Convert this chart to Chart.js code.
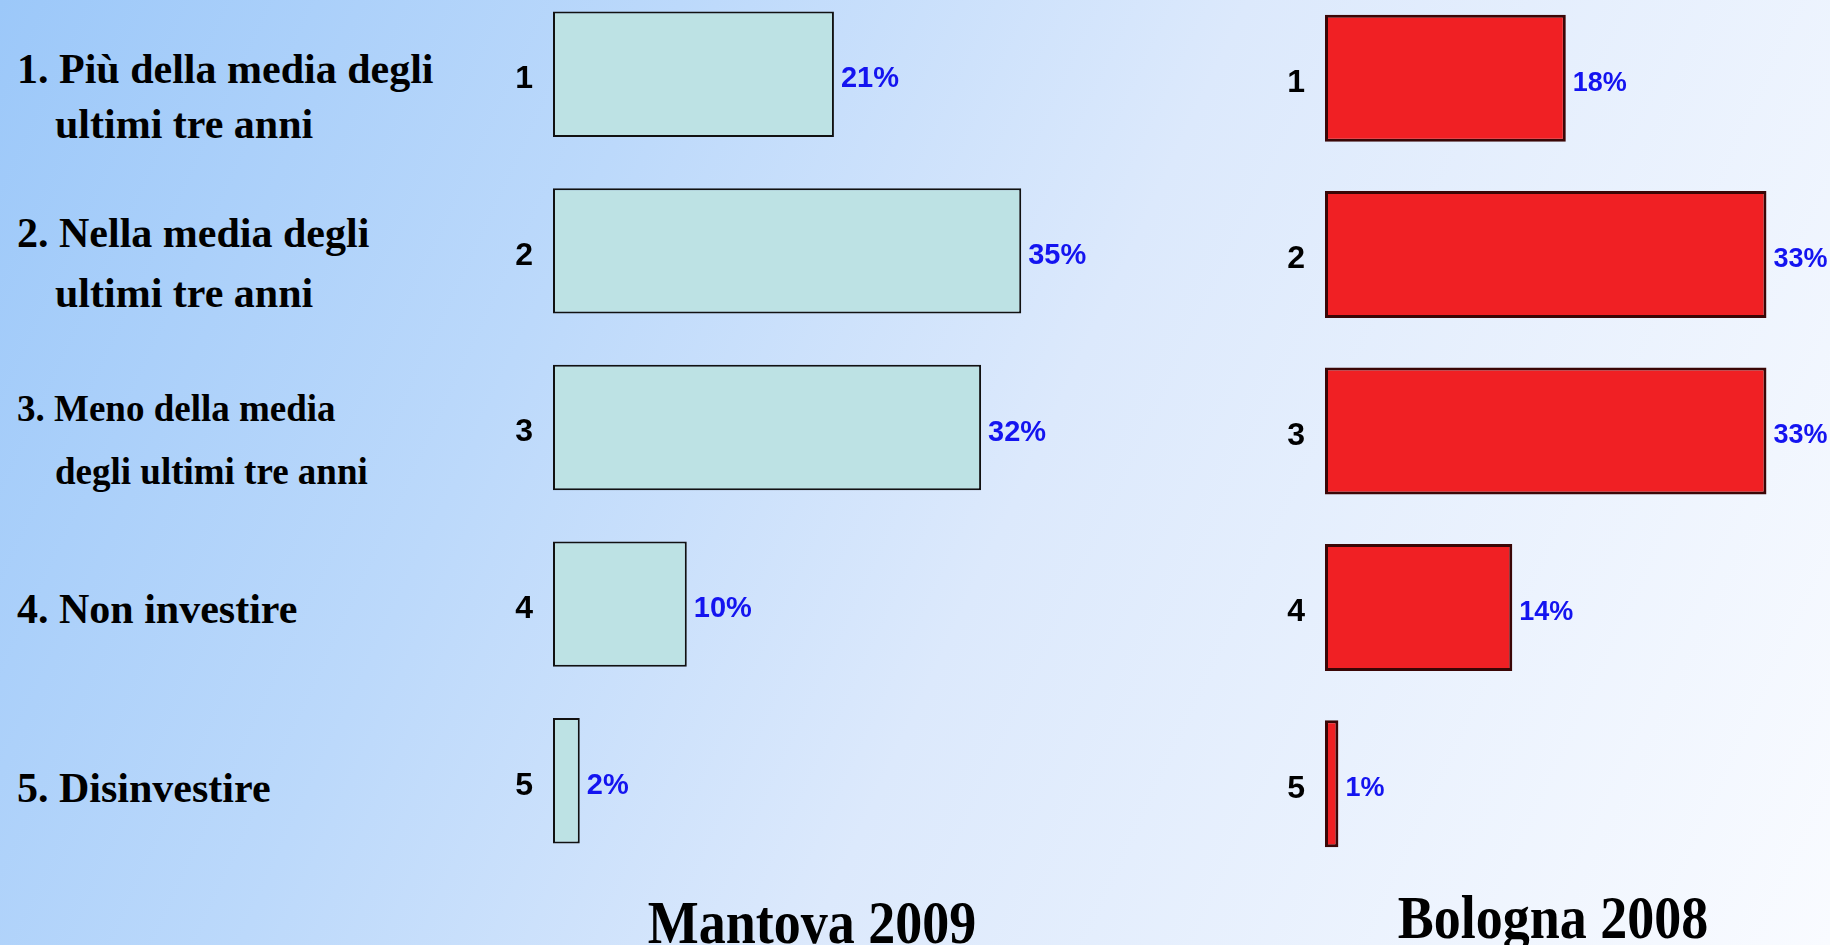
<!DOCTYPE html>
<html>
<head>
<meta charset="utf-8">
<script src="https://cdn.jsdelivr.net/npm/chart.js@4/dist/chart.umd.min.js"></script>
<style>
  html, body { margin: 0; padding: 0; }
  body {
    width: 1830px; height: 945px; overflow: hidden; position: relative;
    background: linear-gradient(115deg, #9cc8f9 0%, #bcd9fb 30%, #dce9fc 55%, #f9fbff 100%);
  }
  .lbl { position: absolute; font-family: "Liberation Serif", "Times New Roman", serif; font-weight: bold; color: #000; white-space: nowrap; line-height: 1; }
  .title { position: absolute; font-family: "Liberation Serif", "Times New Roman", serif; font-weight: bold; font-size: 54px; line-height: 1; transform: translateX(-50%) scaleY(1.12); transform-origin: 50% 100%; white-space: nowrap; }
  canvas { position: absolute; }
</style>
</head>
<body>
<div id="labels"></div>
<canvas id="mantova" width="675" height="883" style="left:480px; top:-14px;"></canvas>
<canvas id="bologna" width="677" height="882" style="left:1250px; top:-10px;"></canvas>
<div class="title" style="left:812px; top:899px;">Mantova 2009</div>
<div class="title" style="left:1553px; top:894px;">Bologna 2008</div>

<script>
// Categories and values
var categories = ['1', '2', '3', '4', '5'];
var mantovaValues = [21, 35, 32, 10, 2];
var bolognaValues = [18, 33, 33, 14, 1];

// Answer texts shown on the left (one entry per category, split in lines)
var answerLines = [
    ['1. Più della media degli', 'ultimi tre anni'],
    ['2. Nella media degli', 'ultimi tre anni'],
    ['3. Meno della media', 'degli ultimi tre anni'],
    ['4. Non investire'],
    ['5. Disinvestire']
];

// Place the answer texts next to each bar row
var lineTops = [[48, 103], [212, 272], [390, 453], [588], [767]];
var lineLefts = [17, 55];
var fontSizes = [42, 42, 37, 42, 42];
var holder = document.getElementById('labels');
answerLines.forEach(function(lines, i) {
    lines.forEach(function(text, j) {
        var d = document.createElement('div');
        d.className = 'lbl';
        d.textContent = text;
        d.style.left = lineLefts[j] + 'px';
        d.style.top = lineTops[i][j] + 'px';
        d.style.fontSize = fontSizes[i] + 'px';
        holder.appendChild(d);
    });
});

// Draw the "nn%" text at the end of each bar
var valueLabels = {
    id: 'valueLabels',
    afterDatasetsDraw: function(chart, args, opts) {
        var ctx = chart.ctx;
        var meta = chart.getDatasetMeta(0);
        var data = chart.data.datasets[0].data;
        ctx.save();
        ctx.fillStyle = '#1414f0';
        ctx.font = 'bold ' + opts.size + 'px "Liberation Sans", Arial, sans-serif';
        ctx.textAlign = 'left';
        ctx.textBaseline = 'middle';
        meta.data.forEach(function(bar, i) {
            ctx.fillText(data[i] + '%', bar.x + 7, bar.y + 5);
        });
        ctx.restore();
    }
};

function makeChart(id, values, fill, border, borderW, barPct, labelSize) {
    var ctx = document.getElementById(id).getContext('2d');
    return new Chart(ctx, {
        type: 'bar',
        data: {
            labels: categories,
            datasets: [{
                data: values,
                backgroundColor: fill,
                borderColor: border,
                borderWidth: borderW,
                borderSkipped: false,
                barPercentage: barPct,
                categoryPercentage: 1
            }]
        },
        options: {
            indexAxis: 'y',
            responsive: false,
            animation: false,
            layout: { padding: 0 },
            plugins: {
                legend: { display: false },
                tooltip: { enabled: false },
                valueLabels: { size: labelSize }
            },
            scales: {
                x: { display: false, min: 0, max: 45 },
                y: {
                    grid: { display: false, drawTicks: false },
                    border: { display: false },
                    ticks: {
                        color: '#000',
                        padding: 20,
                        labelOffset: 5,
                        font: { family: '"Liberation Sans", Arial, sans-serif', weight: 'bold', size: 32 }
                    },
                    afterFit: function(scale) {
                        // keep the bands filling the whole canvas height
                        scale.width = id === 'mantova' ? 73 : 75;
                        scale.paddingTop = 0;
                        scale.paddingBottom = 0;
                    }
                }
            }
        },
        plugins: [valueLabels]
    });
}

makeChart('mantova', mantovaValues, '#bde2e4', '#111111', 2, 0.71, 29);
makeChart('bologna', bolognaValues, '#f02024', '#3a0606', 3, 0.72, 27);
</script>
</body>
</html>
